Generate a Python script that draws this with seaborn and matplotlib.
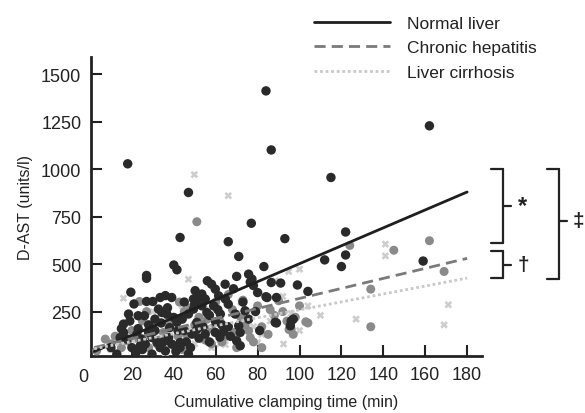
import numpy as np
import pandas as pd
import matplotlib
matplotlib.use("Agg")
import matplotlib.pyplot as plt
from matplotlib.lines import Line2D
import seaborn as sns

# ---------------- data ----------------
groups = ["Normal liver", "Chronic hepatitis", "Liver cirrhosis"]

normal_x = [18, 84, 86.5, 47, 115, 162, 43, 77, 66, 93, 71, 40, 41.5, 27, 27, 19.5, 83, 122, 122, 120,
            112, 159, 99, 104, 86.5, 84, 56, 58, 64.5, 68.5, 70, 75.7, 77.3, 78, 76.5, 89, 89, 96, 97, 95.6,
            27, 30, 33.5, 36, 39, 18.4, 23, 26, 32.7, 34.3, 36.7, 31, 16, 15, 16, 40, 41.5, 44, 47, 49.4,
            49.4, 51.8, 14.4, 17.6, 22.4, 24.8, 26.4, 29.6, 32, 33.5, 37.5, 39, 43, 43, 48, 47, 36, 29.6, 12.8,
            51, 48.7, 50.2, 51.8, 53.4, 55, 59.8, 61.4, 64.6, 66, 53.4, 55.8, 59, 62.2, 69.3, 74, 75.7, 84.5,
            88.4, 71, 71.7, 55, 59.8, 63.7, 70, 71.7, 51, 20, 22, 25, 10, 57, 62, 66, 45, 38, 28, 21, 60,
            19, 23, 24, 28, 31, 34, 35, 37, 41, 42, 45, 46, 50, 52, 54, 57, 61, 63, 67, 73, 80, 79, 81, 91]
normal_y = [1028, 1412, 1101, 877, 956, 1228, 640, 715, 618, 634, 540, 495, 470, 440, 425, 352, 487, 669, 548, 487,
            522, 516, 390, 356, 403, 328, 412, 394, 394, 370, 435, 447, 421, 387, 405, 324, 190, 200, 210, 175,
            303, 303, 324, 334, 324, 237, 228, 228, 263, 245, 237, 210, 184, 160, 140, 219, 193, 210, 237, 263,
            316, 333, 113, 105, 131, 105, 79, 113, 87, 60, 113, 79, 87, 60, 60, 26, 43, 26, 26,
            156, 131, 360, 324, 342, 316, 368, 333, 316, 289, 280, 245, 280, 237, 237, 254, 210, 324,
            193, 175, 140, 131, 140, 145, 96, 70, 193, 60, 35, 50, 60, 90, 115, 170, 150, 165, 180, 290, 195,
            200, 160, 70, 140, 150, 190, 90, 270, 40, 150, 300, 90, 290, 110, 170, 230, 260, 180, 120, 300, 350, 250, 150, 400]

chronic_x = [51, 162, 145, 124, 169, 134, 134, 103, 7.3, 3.2, 23.6, 42.7, 90, 75.7, 76.5,
             20, 25, 30, 35, 38, 42, 45, 50, 52, 55, 58, 60, 62, 65, 68, 72, 74, 78, 80, 82, 85, 88,
             92, 94, 96, 100, 104, 10, 12, 15, 18, 28, 33, 40, 46, 53, 58, 66, 70, 82, 86, 98, 97, 95,
             22, 27, 32, 37, 44, 48, 56, 63, 69, 73]
chronic_y = [723, 623, 573, 598, 461, 368, 170, 196, 105, 43, 303, 300, 307, 149, 113,
             150, 200, 170, 140, 190, 120, 250, 180, 220, 100, 160, 300, 200, 120, 260, 220, 180, 90, 280,
             170, 130, 230, 250, 200, 160, 280, 190, 80, 120, 60, 95, 60, 100, 70, 130, 300, 80, 340, 60,
             60, 260, 220, 130, 155,
             110, 250, 80, 230, 50, 270, 210, 90, 140, 310]

cirrhosis_x = [49.8, 66, 47, 141, 141, 88.4, 94.8, 100, 127, 171, 169, 62, 64.6, 50, 80, 92.4,
               10, 15, 20, 25, 30, 35, 38, 42, 45, 48, 52, 55, 58, 60, 65, 68, 72, 75, 78, 82, 86,
               92, 96, 104, 110, 16, 28, 36, 44, 62, 70, 100]
cirrhosis_y = [971, 860, 420, 605, 543, 412, 461, 473, 210, 286, 180, 80, 76, 80, 87, 79,
               50, 90, 140, 80, 250, 180, 120, 60, 220, 160, 100, 260, 60, 200, 150, 110, 300, 250, 170,
               130, 200, 330, 240, 280, 230, 320, 130, 30, 280, 320, 240, 150]

# regression lines (intercept, slope)
fit_intercept = [30, 55, 50]
fit_slope = [4.72, 2.64, 2.09]
fit_x_range = [2, 180]

x_ticks = [20, 40, 60, 80, 100, 120, 140, 160, 180]
y_ticks = [250, 500, 750, 1000, 1250, 1500]

# ---------------- frames ----------------
pts = pd.concat([
    pd.DataFrame({"t": normal_x, "ast": normal_y, "group": groups[0]}),
    pd.DataFrame({"t": chronic_x, "ast": chronic_y, "group": groups[1]}),
    pd.DataFrame({"t": cirrhosis_x, "ast": cirrhosis_y, "group": groups[2]}),
], ignore_index=True)

lines = pd.DataFrame([
    {"t": xv, "ast": b0 + b1 * xv, "group": g}
    for g, b0, b1 in zip(groups, fit_intercept, fit_slope)
    for xv in fit_x_range
])

sns.set_theme(style="white")
plt.rcParams["font.family"] = ["Liberation Sans", "DejaVu Sans"]

fig = plt.figure(figsize=(5.85, 4.14), dpi=100)
ax = fig.add_axes([0.1556, 0.1377, 0.668, 0.722])

point_colors = {groups[0]: "#2a2a2a", groups[1]: "#8a8a8a", groups[2]: "#cdcdcd"}
markers = {groups[0]: "o", groups[1]: "o", groups[2]: "X"}
sizes = {groups[0]: 46, groups[1]: 42, groups[2]: 30}

for g in [groups[2], groups[1], groups[0]]:
    sub = pts[pts.group == g]
    sns.scatterplot(data=sub, x="t", y="ast", color=point_colors[g], marker=markers[g],
                    s=sizes[g], edgecolor="none", linewidth=0, ax=ax, legend=False, zorder=3)

line_colors = {groups[0]: "#1e1e1e", groups[1]: "#7a7a7a", groups[2]: "#c8c8c8"}
dashes = {groups[0]: "", groups[1]: (4, 2.2), groups[2]: (1, 1)}
sns.lineplot(data=lines, x="t", y="ast", hue="group", style="group", palette=line_colors,
             dashes=dashes, ax=ax, legend=False, linewidth=2.0, zorder=4)

ax.set_xlim(0.5, 187)
ax.set_ylim(16, 1590)
ax.set_xticks(x_ticks)
ax.set_yticks(y_ticks)
ax.set_xticklabels([str(v) for v in x_ticks])
ax.set_yticklabels([str(v) for v in y_ticks])
ax.tick_params(axis="both", direction="in", length=8, width=1.5, color="#222222",
               labelsize=13, labelcolor="#222222", pad=7, bottom=True, left=True)
for s in ["top", "right"]:
    ax.spines[s].set_visible(False)
for s in ["left", "bottom"]:
    ax.spines[s].set_color("#222222")
    ax.spines[s].set_linewidth(2)
ax.set_xlabel("Cumulative clamping time (min)", fontsize=11.5, color="#222222", labelpad=8)
ax.set_ylabel("D-AST (units/l)", fontsize=11.5, color="#222222", labelpad=6)
ax.grid(False)

# corner zero label
fig.text(83 / 585, 1 - 378 / 414, "0", ha="center", va="center", fontsize=13, color="#222222")

# legend
handles = [Line2D([], [], color=line_colors[g], lw=2.0, linestyle="-" if g == groups[0] else ((0, dashes[g])))
           for g in groups]
fig.legend(handles, groups, loc="upper left", bbox_to_anchor=(298 / 585, 1 - 1 / 414),
           frameon=False, fontsize=12.5, handlelength=4.4, handletextpad=1.0, labelspacing=0.55,
           labelcolor="#222222")

# significance brackets
def fl(x0, y0, x1, y1):
    fig.add_artist(Line2D([x0 / 585, x1 / 585], [1 - y0 / 414, 1 - y1 / 414],
                          color="#222222", lw=1.6, transform=fig.transFigure))

def bracket(xl, xr, ytop, ybot, ymid, xtick, sym, xs, fs):
    fl(xl, ytop, xr, ytop)
    fl(xl, ybot, xr, ybot)
    fl(xr, ytop, xr, ybot)
    fl(xr, ymid, xtick, ymid)
    fig.text(xs / 585, 1 - ymid / 414, sym, ha="center", va="center", fontsize=fs,
             color="#222222", fontweight="bold")

bracket(491, 503, 170, 244, 207, 511, "*", 523, 17)
bracket(491, 503, 252, 279, 266, 511, "\u2020", 523, 15)
bracket(547, 559, 170, 280, 222, 567, "\u2021", 578, 15)

fig.savefig("out.png", dpi=100)
